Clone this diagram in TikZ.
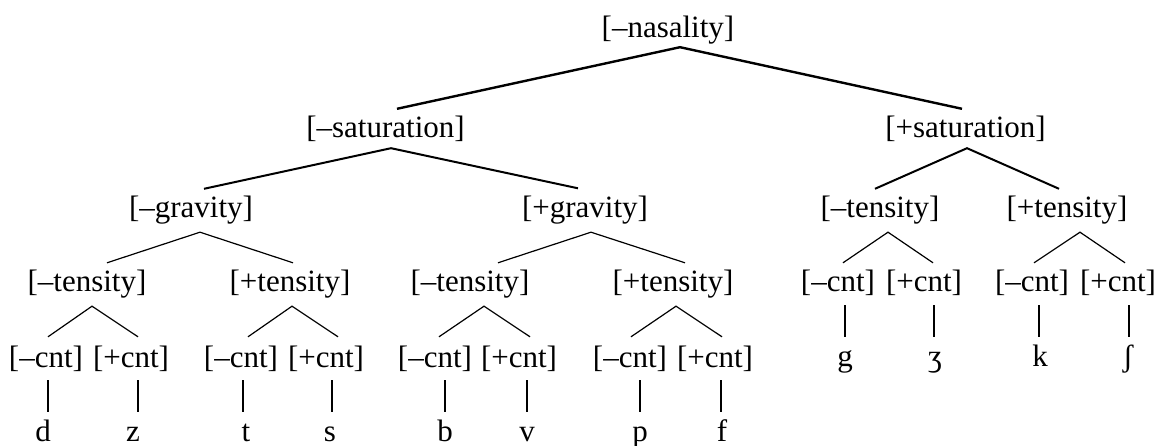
\documentclass[tikz,border=0pt]{standalone}
\usepackage{fontspec}
\setmainfont{Liberation Serif}
\begin{document}
\begin{tikzpicture}[x=1pt,y=-1pt,
  lbl/.style={inner sep=0pt,anchor=base,text height=21.5pt,text depth=5.5pt,font=\fontsize{31}{36}\selectfont},
  e1/.style={line width=2.4pt},
  e2/.style={line width=2.0pt},
  e3/.style={line width=1.2pt}]
\useasboundingbox (0,0) rectangle (1160,446);
% level 1
\node[lbl] (nas) at (668,37.5) {[–nasality]};
% level 2
\node[lbl] (satL) at (385.5,138) {[–saturation]};
\node[lbl] (satR) at (965.5,138) {[+saturation]};
% level 3
\node[lbl] (gravL) at (191,217.5) {[–gravity]};
\node[lbl] (gravR) at (585,217.5) {[+gravity]};
\node[lbl] (tenE) at (880,217.5) {[–tensity]};
\node[lbl] (tenF) at (1067,217.5) {[+tensity]};
% level 4
\node[lbl] (tenA) at (87,292) {[–tensity]};
\node[lbl] (tenB) at (290,292) {[+tensity]};
\node[lbl] (tenC) at (470,292) {[–tensity]};
\node[lbl] (tenD) at (673,292) {[+tensity]};
\node[lbl] (c9) at (838,292) {[–cnt]};
\node[lbl] (c10) at (924,292) {[+cnt]};
\node[lbl] (c11) at (1032,292) {[–cnt]};
\node[lbl] (c12) at (1118,292) {[+cnt]};
% level 5
\node[lbl] (c1) at (46,367.5) {[–cnt]};
\node[lbl] (c2) at (131,367.5) {[+cnt]};
\node[lbl] (c3) at (241,367.5) {[–cnt]};
\node[lbl] (c4) at (326,367.5) {[+cnt]};
\node[lbl] (c5) at (435,367.5) {[–cnt]};
\node[lbl] (c6) at (519,367.5) {[+cnt]};
\node[lbl] (c7) at (630,367.5) {[–cnt]};
\node[lbl] (c8) at (715,367.5) {[+cnt]};
\node[lbl] (g) at (845,367) {g};
\node[lbl] (zh) at (935,367) {ʒ};
\node[lbl] (k) at (1040,367) {k};
\node[lbl] (sh) at (1128,367) {ʃ};
% letters
\node[lbl] (d) at (43,441) {d};
\node[lbl] (z) at (133,441) {z};
\node[lbl] (t) at (246,441) {t};
\node[lbl] (s) at (330,441) {s};
\node[lbl] (b) at (445,441) {b};
\node[lbl] (v) at (527,441) {v};
\node[lbl] (p) at (640,441) {p};
\node[lbl] (f) at (722,441) {f};
% edges
\draw[e1] ([shift={(-3.5,-7.5)}]satR.north) -- ([shift={(12,4)}]nas.south) -- ([shift={(11.5,-7.5)}]satL.north);
\draw[e2] ([shift={(13,-7)}]gravL.north) -- ([shift={(5.5,4.5)}]satL.south) -- ([shift={(-7,-7.5)}]gravR.north);
\draw[e2] ([shift={(-5,-7)}]tenE.north) -- ([shift={(1.5,4.5)}]satR.south) -- ([shift={(-8,-7)}]tenF.north);
\draw[e3] ([shift={(20,-7.5)}]tenA.north) -- ([shift={(9,9)}]gravL.south) -- ([shift={(3,-7.5)}]tenB.north);
\draw[e3] ([shift={(28,-7.5)}]tenC.north) -- ([shift={(6,9)}]gravR.south) -- ([shift={(12,-7.5)}]tenD.north);
\draw[e3] ([shift={(5,-7.5)}]c9.north) -- ([shift={(8,9)}]tenE.south) -- ([shift={(9,-7.5)}]c10.north);
\draw[e3] ([shift={(2,-7.5)}]c11.north) -- ([shift={(13,9)}]tenF.south) -- ([shift={(7,-7.5)}]c12.north);
\draw[e3] ([shift={(2,-9)}]c1.north) -- ([shift={(5,8.5)}]tenA.south) -- ([shift={(7,-9)}]c2.north);
\draw[e3] ([shift={(7,-9)}]c3.north) -- ([shift={(2,8.5)}]tenB.south) -- ([shift={(12,-9)}]c4.north);
\draw[e3] ([shift={(4,-9)}]c5.north) -- ([shift={(14,8.5)}]tenC.south) -- ([shift={(11,-9)}]c6.north);
\draw[e3] ([shift={(1,-9)}]c7.north) -- ([shift={(3,8.5)}]tenD.south) -- ([shift={(7,-9)}]c8.north);
% verticals
\draw[e3] ([shift={(2,7)}]c1.south) -- ([shift={(5,-7.5)}]d.north);
\draw[e3] ([shift={(7,7)}]c2.south) -- ([shift={(5,-7.5)}]z.north);
\draw[e3] ([shift={(2,7)}]c3.south) -- ([shift={(-3,-7.5)}]t.north);
\draw[e3] ([shift={(6,7)}]c4.south) -- ([shift={(2,-7.5)}]s.north);
\draw[e3] ([shift={(10,7)}]c5.south) -- ([shift={(0,-7.5)}]b.north);
\draw[e3] ([shift={(8,7)}]c6.south) -- ([shift={(0,-7.5)}]v.north);
\draw[e3] ([shift={(10,7)}]c7.south) -- ([shift={(0,-7.5)}]p.north);
\draw[e3] ([shift={(6,7)}]c8.south) -- ([shift={(-1,-7.5)}]f.north);
\draw[e3] ([shift={(7,7.5)}]c9.south) -- ([shift={(0,-8.5)}]g.north);
\draw[e3] ([shift={(10,7.5)}]c10.south) -- ([shift={(-1,-8.5)}]zh.north);
\draw[e3] ([shift={(7,7.5)}]c11.south) -- ([shift={(-1,-8.5)}]k.north);
\draw[e3] ([shift={(11,7.5)}]c12.south) -- ([shift={(1,-8.5)}]sh.north);
\end{tikzpicture}
\end{document}
